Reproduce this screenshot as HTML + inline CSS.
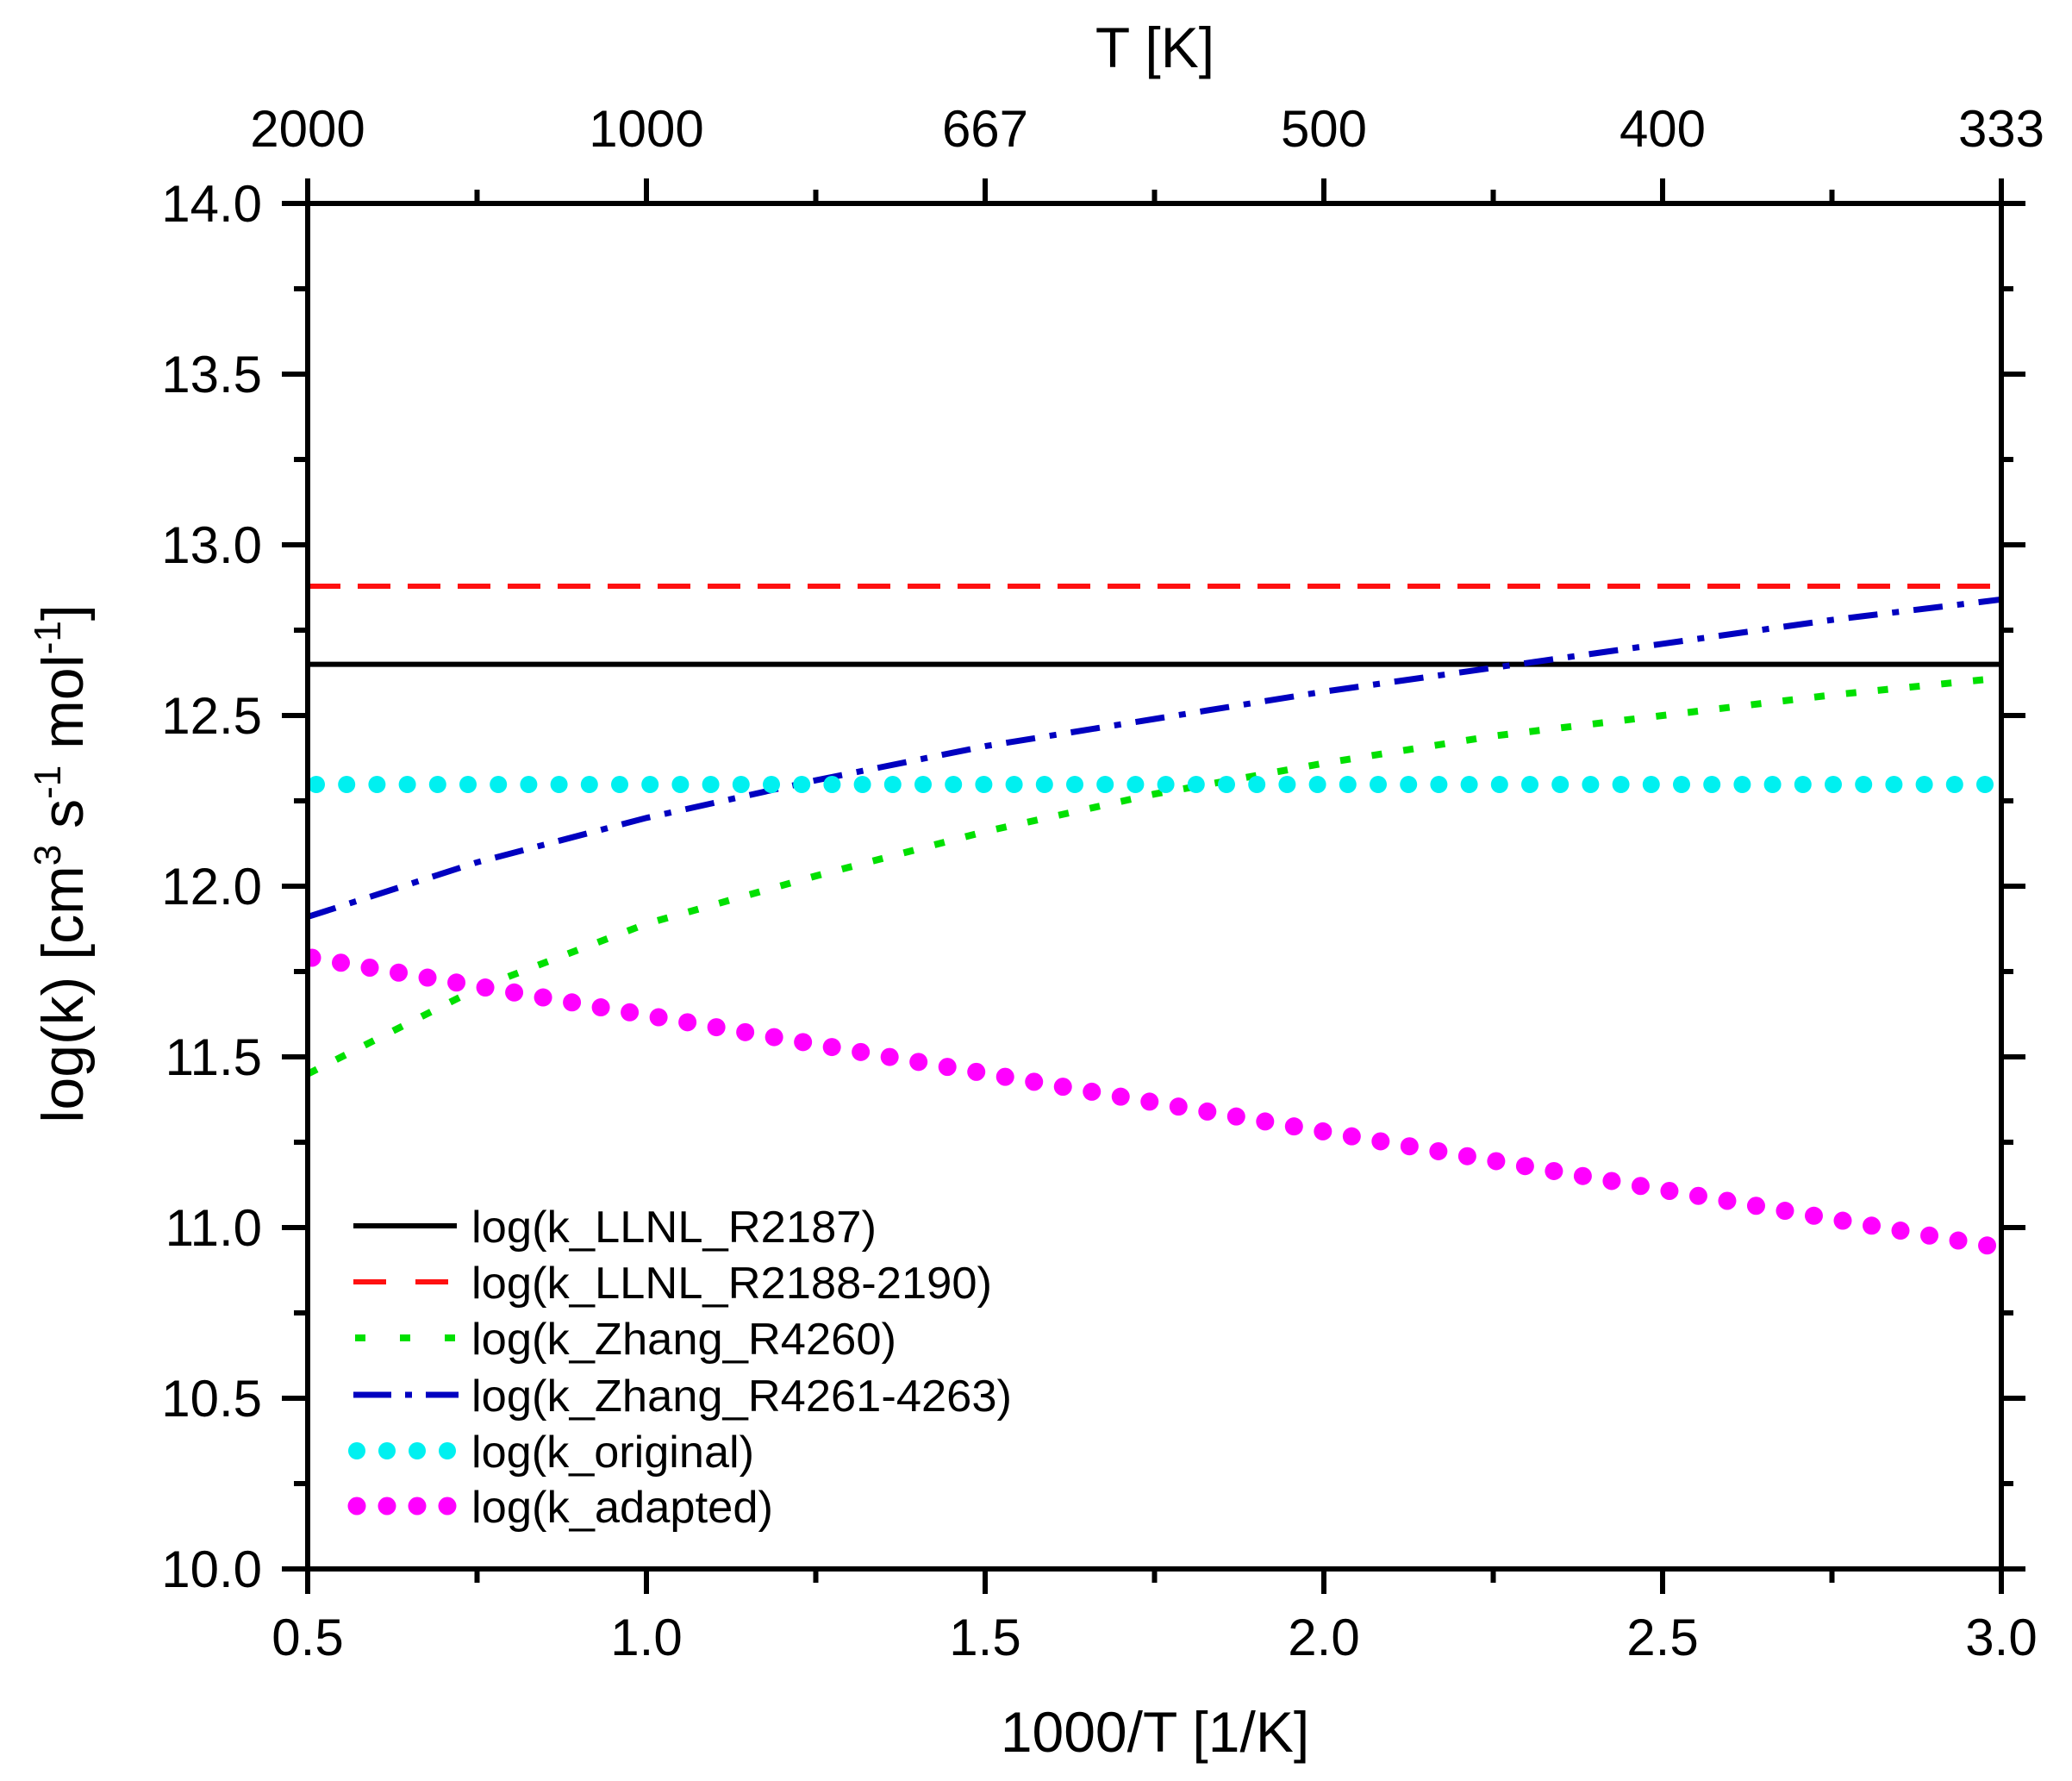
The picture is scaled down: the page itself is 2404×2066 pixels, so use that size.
<!DOCTYPE html>
<html><head><meta charset="utf-8"><style>
html,body{margin:0;padding:0;background:#fff;}
svg{display:block;}
text{font-family:"Liberation Sans",Arial,sans-serif;fill:#000;}
</style></head><body>
<svg width="2404" height="2066" viewBox="0 0 2404 2066" xmlns="http://www.w3.org/2000/svg">
<rect width="2404" height="2066" fill="#fff"/>
<defs><clipPath id="c"><rect x="357" y="236" width="1965" height="1584"/></clipPath></defs>
<g clip-path="url(#c)" fill="none">
  <line x1="357" y1="770.6" x2="2322" y2="770.6" stroke="#000" stroke-width="6"/>
  <line x1="357" y1="680" x2="2322" y2="680" stroke="#ff1010" stroke-width="6" stroke-dasharray="38 20"/>
  <polyline points="357,1245.8 553.5,1146.8 750,1071.6 946.5,1016.1 1143,964.6 1339.5,921.1 1536,885.4 1732.5,853.8 1929,830 2125.5,806.2 2322,786.4" stroke="#00e000" stroke-width="8" stroke-dasharray="12 25"/>
  <polyline points="357,1063.6 553.5,1000.3 750,948.8 946.5,905.2 1143,865.6 1339.5,834 1536,802.3 1732.5,774.6 1929,746.8 2125.5,719.1 2322,695.4" stroke="#0000c0" stroke-width="7" stroke-dasharray="34 17 8 17"/>
  <line x1="367" y1="910" x2="2340" y2="910" stroke="#00f0f0" stroke-width="20" stroke-linecap="round" stroke-dasharray="0 35.2"/>
  <line x1="362" y1="1111" x2="2330" y2="1449" stroke="#ff00ff" stroke-width="21" stroke-linecap="round" stroke-dasharray="0 34"/>
</g>
<g stroke="#000" stroke-width="6" fill="none">
  <rect x="357" y="236" width="1965" height="1584"/>
  <path d="M357,207V236 M750,207V236 M1143,207V236 M1536,207V236 M1929,207V236 M2322,207V236
           M357,1820V1849 M750,1820V1849 M1143,1820V1849 M1536,1820V1849 M1929,1820V1849 M2322,1820V1849
           M553.5,220V236 M946.5,220V236 M1339.5,220V236 M1732.5,220V236 M2125.5,220V236
           M553.5,1820V1836 M946.5,1820V1836 M1339.5,1820V1836 M1732.5,1820V1836 M2125.5,1820V1836"/>
  <path d="M327,236H357 M327,434H357 M327,632H357 M327,830H357 M327,1028H357 M327,1226H357 M327,1424H357 M327,1622H357 M327,1820H357
           M341,335H357 M341,533H357 M341,731H357 M341,929H357 M341,1127H357 M341,1325H357 M341,1523H357 M341,1721H357
           M2322,236H2350 M2322,434H2350 M2322,632H2350 M2322,830H2350 M2322,1028H2350 M2322,1226H2350 M2322,1424H2350 M2322,1622H2350 M2322,1820H2350
           M2322,335H2336 M2322,533H2336 M2322,731H2336 M2322,929H2336 M2322,1127H2336 M2322,1325H2336 M2322,1523H2336 M2322,1721H2336"/>
</g>
<g font-size="60" text-anchor="end">
  <text x="304" y="257">14.0</text>
  <text x="304" y="455">13.5</text>
  <text x="304" y="653">13.0</text>
  <text x="304" y="851">12.5</text>
  <text x="304" y="1049">12.0</text>
  <text x="304" y="1247">11.5</text>
  <text x="304" y="1445">11.0</text>
  <text x="304" y="1643">10.5</text>
  <text x="304" y="1841">10.0</text>
</g>
<g font-size="60" text-anchor="middle">
  <text x="357" y="1920">0.5</text>
  <text x="750" y="1920">1.0</text>
  <text x="1143" y="1920">1.5</text>
  <text x="1536" y="1920">2.0</text>
  <text x="1929" y="1920">2.5</text>
  <text x="2322" y="1920">3.0</text>
  <text x="357" y="170">2000</text>
  <text x="750" y="170">1000</text>
  <text x="1143" y="170">667</text>
  <text x="1536" y="170">500</text>
  <text x="1929" y="170">400</text>
  <text x="2322" y="170">333</text>
</g>
<text x="1340" y="2032" font-size="66" text-anchor="middle">1000/T [1/K]</text>
<text x="1340" y="78" font-size="66" text-anchor="middle">T [K]</text>
<text transform="translate(96,1002) rotate(-90)" font-size="68" text-anchor="middle">log(k) [cm<tspan font-size="44" dy="-26">3</tspan><tspan dy="26"> s</tspan><tspan font-size="44" dy="-26">-1</tspan><tspan dy="26"> mol</tspan><tspan font-size="44" dy="-26">-1</tspan><tspan dy="26">]</tspan></text>
<g fill="none">
  <line x1="410" y1="1422" x2="530" y2="1422" stroke="#000" stroke-width="6"/>
  <line x1="410" y1="1487" x2="530" y2="1487" stroke="#ff1010" stroke-width="6" stroke-dasharray="38 34"/>
  <line x1="412" y1="1552" x2="530" y2="1552" stroke="#00e000" stroke-width="8" stroke-dasharray="12 40"/>
  <line x1="410" y1="1618" x2="532" y2="1618" stroke="#0000c0" stroke-width="7" stroke-dasharray="44 16 8 16"/>
  <line x1="414" y1="1683" x2="530" y2="1683" stroke="#00f0f0" stroke-width="20" stroke-linecap="round" stroke-dasharray="0 35"/>
  <line x1="414" y1="1747" x2="530" y2="1747" stroke="#ff00ff" stroke-width="21" stroke-linecap="round" stroke-dasharray="0 35"/>
</g>
<g font-size="52">
  <text x="547" y="1441" textLength="470" lengthAdjust="spacingAndGlyphs">log(k_LLNL_R2187)</text>
  <text x="547" y="1506" textLength="604" lengthAdjust="spacingAndGlyphs">log(k_LLNL_R2188-2190)</text>
  <text x="547" y="1571" textLength="493" lengthAdjust="spacingAndGlyphs">log(k_Zhang_R4260)</text>
  <text x="547" y="1637" textLength="627" lengthAdjust="spacingAndGlyphs">log(k_Zhang_R4261-4263)</text>
  <text x="547" y="1702" textLength="328" lengthAdjust="spacingAndGlyphs">log(k_original)</text>
  <text x="547" y="1766" textLength="350" lengthAdjust="spacingAndGlyphs">log(k_adapted)</text>
</g>
</svg>
</body></html>
